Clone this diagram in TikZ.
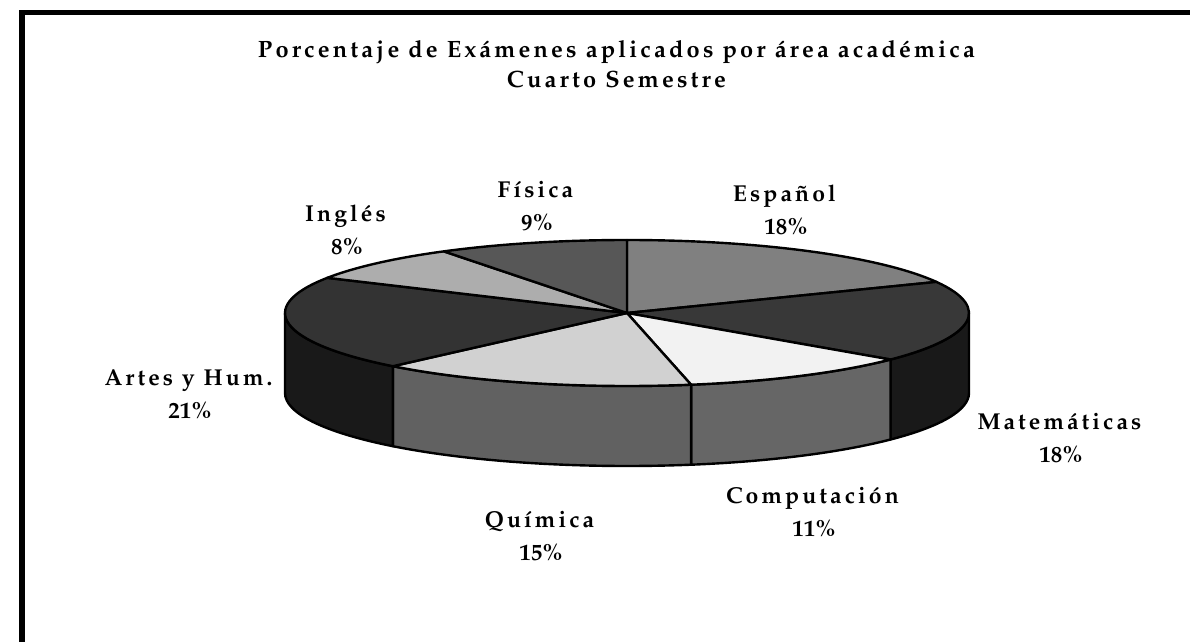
\documentclass[tikz,border=0pt]{standalone}
\usepackage[T1]{fontenc}
\usepackage{mathpazo}
\usetikzlibrary{calc}
\newcommand{\esp}[1]{\espA#1\relax}
\def\espA#1{\ifx#1\relax\else#1\kern0.135em\relax\expandafter\espA\fi}
\tikzset{ titulo/.style = {align=center, font=\bfseries\fontsize{11.8}{15}\selectfont} }
\tikzset{ etiqueta/.style = {align=center, font=\bfseries\fontsize{11.5}{16.5}\selectfont} }
\tikzset{ cara/.style = {draw, line width=1.2pt, line join=round} }

\begin{document}
\begin{tikzpicture}[x=0.5pt,y=-0.5pt]
  \useasboundingbox (0,0) rectangle (1190,642);
  \fill[white] (0,0) rectangle (1190,642);
  \draw[line width=2.6pt] (1190,12.5) -- (22,12.5) -- (22,642);
  \coordinate (C) at (627,313);
  % paredes del frente
  \foreach \ini/\fin/\tono in {0/39.6/90, 39.6/79.2/60, 79.2/133.2/62, 133.2/180/90}
    \filldraw[cara, fill=black!\tono] ($(C)+(\ini:342 and 73)$)
      arc[start angle=\ini, end angle=\fin, x radius=342, y radius=73] -- ++(0,80)
      arc[start angle=\fin, end angle=\ini, x radius=342, y radius=73] -- cycle;
  % tapa
  \foreach \ini/\fin/\tono in {-90/-25.2/50, -25.2/39.6/78, 39.6/79.2/5, 79.2/133.2/18,
                               133.2/208.8/80, 208.8/237.6/32, 237.6/270/66}
    \filldraw[cara, fill=black!\tono] (C) -- ($(C)+(\ini:342 and 73)$)
      arc[start angle=\ini, end angle=\fin, x radius=342, y radius=73] -- cycle;
  \node[titulo] (titulo) at (618,64) {\esp{Porcentaje} \esp{de} \esp{Exámenes} \esp{aplicados} \esp{por} \esp{área} \esp{académica}\\\esp{Cuarto} \esp{Semestre}};
  \node[etiqueta] (espanol) at (786,210) {\esp{Español}\\18\%};
  \node[etiqueta] (fisica) at (537,206) {\esp{Física}\\9\%};
  \node[etiqueta] (ingles) at (347,230) {\esp{Inglés}\\8\%};
  \node[etiqueta] (artes) at (190,394) {\esp{Artes} \esp{y} \esp{Hum.}\\21\%};
  \node[etiqueta] (mate) at (1061,438) {\esp{Matemáticas}\\18\%};
  \node[etiqueta] (quimica) at (541,536) {\esp{Química}\\15\%};
  \node[etiqueta] (compu) at (814,512) {\esp{Computación}\\11\%};
\end{tikzpicture}
\end{document}
